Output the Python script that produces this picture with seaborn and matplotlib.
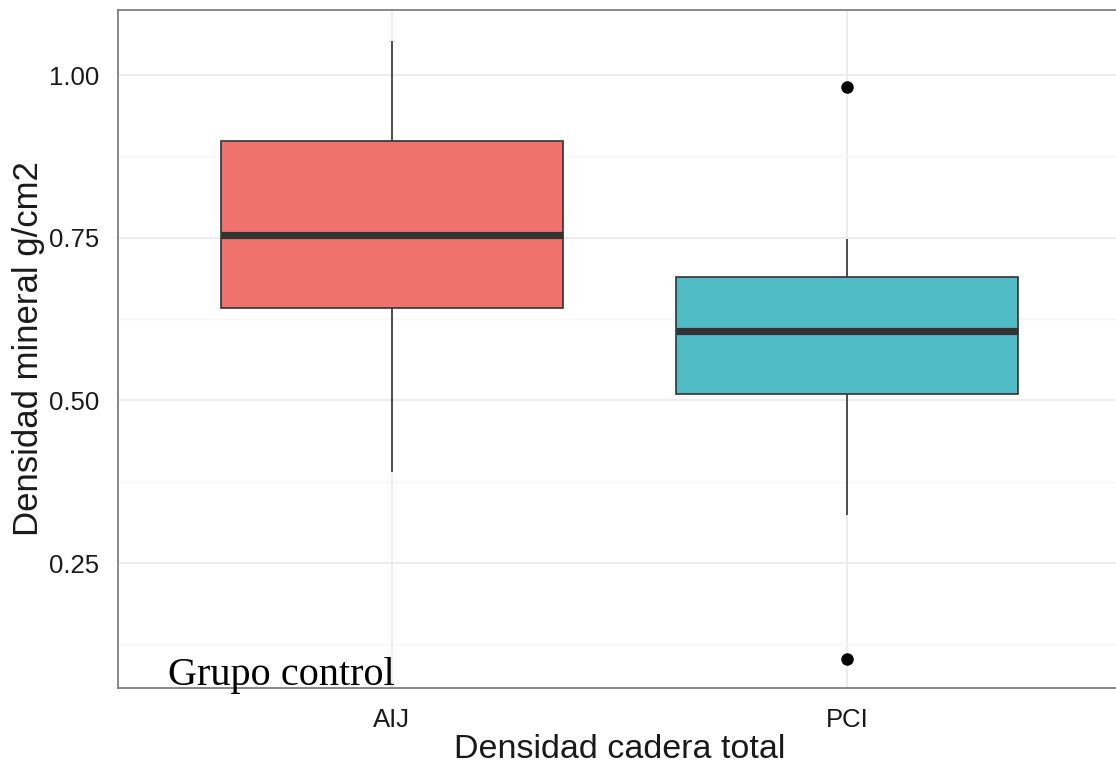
import matplotlib
matplotlib.use("Agg")
import matplotlib.pyplot as plt
import pandas as pd
import seaborn as sns
from matplotlib.ticker import FixedLocator

# ─── Data ─────────────────────────────────────────────────────────────────────
GROUPS = ["AIJ", "PCI"]
# observations chosen so quartiles / whiskers / outliers match the picture
AIJ_VALUES = [0.390, 0.642, 0.754, 0.898, 1.053]
PCI_VALUES = [0.102, 0.324, 0.510, 0.607, 0.607, 0.607, 0.689, 0.748, 0.982]
COLORS = ["#EF736C", "#50BDC6"]
Y_TICKS = [0.25, 0.50, 0.75, 1.00]
Y_MINOR = [0.125, 0.375, 0.625, 0.875]
Y_TICK_LABELS = ["0.25", "0.50", "0.75", "1.00"]

df = pd.DataFrame({
    "grupo": ["AIJ"] * len(AIJ_VALUES) + ["PCI"] * len(PCI_VALUES),
    "densidad": AIJ_VALUES + PCI_VALUES,
})

sns.set_theme(style="white")
plt.rcParams["font.family"] = ["Liberation Sans", "DejaVu Sans"]

fig = plt.figure(figsize=(11.16, 7.68), dpi=100)
ax = fig.add_axes([118 / 1116, 80 / 768, 1003 / 1116, 678 / 768])

sns.boxplot(data=df, x="grupo", y="densidad", hue="grupo", order=GROUPS,
            hue_order=GROUPS, palette=COLORS, saturation=1, width=0.75,
            linecolor="#333333", linewidth=1.2, showcaps=False,
            medianprops=dict(color="#333333", linewidth=5.2),
            whiskerprops=dict(color="#333333", linewidth=1.2),
            flierprops=dict(marker="o", markerfacecolor="black",
                            markeredgecolor="black", markersize=8),
            legend=False, ax=ax)

# ── ggplot theme_bw look
ax.set_xlim(-0.6, 1.6)
ax.set_ylim(0.058, 1.100)
ax.yaxis.set_major_locator(FixedLocator(Y_TICKS))
ax.set_yticklabels(Y_TICK_LABELS)
ax.yaxis.set_minor_locator(FixedLocator(Y_MINOR))
ax.set_axisbelow(True)
ax.grid(True, which="major", color="#EBEBEB", linewidth=1.3)
ax.grid(True, which="minor", axis="y", color="#F5F5F5", linewidth=1.0)
for sp in ax.spines.values():
    sp.set_visible(True)
    sp.set_color("#7F7F7F")
    sp.set_linewidth(1.3)

ax.tick_params(axis="both", which="major", direction="out", length=8.5,
               width=1.0, color="#333333", labelsize=18.5,
               labelcolor="#1a1a1a", pad=5)
ax.tick_params(axis="y", which="minor", length=0)
ax.tick_params(axis="x", pad=6)

ax.set_xlabel("Densidad cadera total", fontsize=24.5, color="#1a1a1a", labelpad=1)
ax.set_ylabel("Densidad mineral g/cm2", fontsize=25, color="#1a1a1a")
ax.yaxis.set_label_coords(-0.073, 0.5)

fig.text(168 / 1116, (768 - 685) / 768, "Grupo control",
         family=["Liberation Serif", "DejaVu Serif"], fontsize=29,
         color="black", va="baseline", ha="left")

fig.savefig("out.png", dpi=100)
